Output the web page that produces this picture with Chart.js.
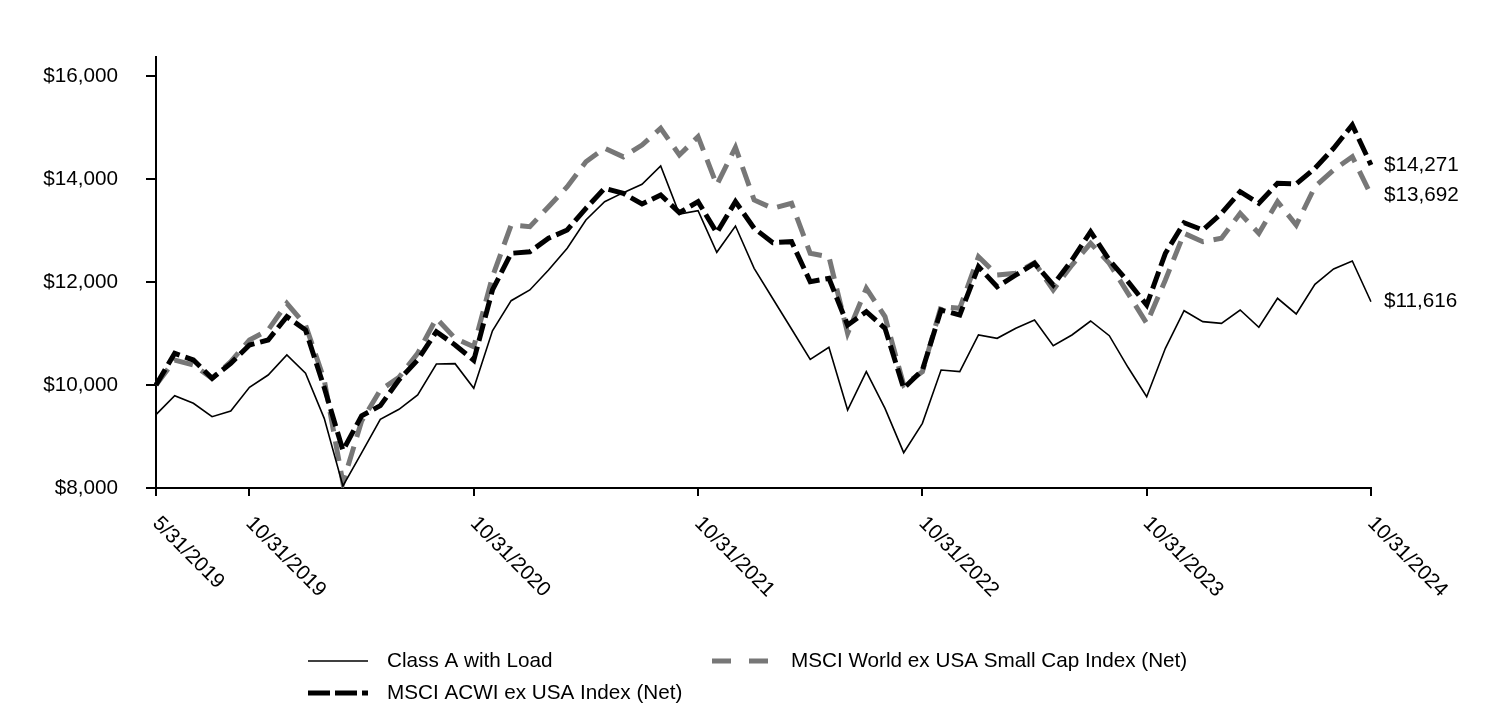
<!DOCTYPE html>
<html>
<head>
<meta charset="utf-8">
<script src="https://cdn.jsdelivr.net/npm/chart.js@4.4.1/dist/chart.umd.min.js"></script>
<style>
  html, body { margin: 0; padding: 0; background: #fff; }
  #wrap { width: 1512px; height: 708px; position: relative; }
</style>
</head>
<body>
<div id="wrap"><canvas id="c"></canvas></div>
<script>
const categories = [
  "5/31/2019","6/30/2019","7/31/2019","8/31/2019","9/30/2019","10/31/2019","11/30/2019","12/31/2019",
  "1/31/2020","2/29/2020","3/31/2020","4/30/2020","5/31/2020","6/30/2020","7/31/2020","8/31/2020","9/30/2020","10/31/2020","11/30/2020","12/31/2020",
  "1/31/2021","2/28/2021","3/31/2021","4/30/2021","5/31/2021","6/30/2021","7/31/2021","8/31/2021","9/30/2021","10/31/2021","11/30/2021","12/31/2021",
  "1/31/2022","2/28/2022","3/31/2022","4/30/2022","5/31/2022","6/30/2022","7/31/2022","8/31/2022","9/30/2022","10/31/2022","11/30/2022","12/31/2022",
  "1/31/2023","2/28/2023","3/31/2023","4/30/2023","5/31/2023","6/30/2023","7/31/2023","8/31/2023","9/30/2023","10/31/2023","11/30/2023","12/31/2023",
  "1/31/2024","2/29/2024","3/31/2024","4/30/2024","5/31/2024","6/30/2024","7/31/2024","8/31/2024","9/30/2024","10/31/2024"
];

const xTickLabels = ["5/31/2019","10/31/2019","10/31/2020","10/31/2021","10/31/2022","10/31/2023","10/31/2024"];
const yTickValues = [8000, 10000, 12000, 14000, 16000];

const seriesNames = ["Class A with Load", "MSCI ACWI ex USA Index (Net)", "MSCI World ex USA Small Cap Index (Net)"];

const classA = [
  9425, 9793, 9645, 9385, 9495, 9955, 10194, 10583, 10228, 9353,
  8039, 8680, 9334, 9528, 9806, 10408, 10414, 9936, 11054, 11637,
  11845, 12233, 12655, 13204, 13560, 13735, 13897, 14252, 13320, 13385,
  12577, 13087, 12266, 11674, 11088, 10499, 10732, 9515, 10259, 9547,
  8686, 9256, 10291, 10259, 10971, 10907, 11101, 11262, 10763, 10971,
  11243, 10958, 10344, 9773, 10713, 11443, 11230, 11198, 11456, 11122,
  11684, 11379, 11955, 12253, 12408, 11616
];

const acwi = [
  10000, 10615, 10485, 10130, 10420, 10777, 10874, 11327, 11068, 9950,
  8730, 9400, 9600, 10100, 10485, 11035, 10777, 10480, 11845, 12557,
  12588, 12849, 13010, 13431, 13819, 13722, 13515, 13690, 13346, 13560,
  12957, 13560, 13043, 12763, 12783, 12006, 12072, 11165, 11424, 11100,
  9936, 10291, 11456, 11359, 12297, 11909, 12136, 12363, 11942, 12427,
  12977, 12427, 12006, 11553, 12557, 13151, 13010, 13334, 13754, 13528,
  13916, 13903, 14208, 14596, 15049, 14271
];

const worldSmall = [
  10000, 10485, 10388, 10130, 10453, 10874, 11068, 11586, 11165, 10100,
  8100, 9300, 9900, 10150, 10615, 11295, 10907, 10744, 12103, 13107,
  13074, 13462, 13850, 14336, 14600, 14430, 14660, 14984, 14466, 14822,
  13884, 14615, 13592, 13430, 13528, 12557, 12491, 11004, 11877, 11327,
  10000, 10259, 11521, 11489, 12491, 12136, 12169, 12375, 11845, 12330,
  12751, 12363, 11780, 11198, 12039, 12945, 12783, 12850, 13334, 12945,
  13560, 13107, 13850, 14175, 14434, 13692
];

const FONT = '"Liberation Sans", Arial, Helvetica, sans-serif';
const FSIZE = 20.7;
Chart.defaults.font.family = FONT;
Chart.defaults.font.size = FSIZE;
Chart.defaults.color = '#000';

const fmt = v => '$' + Number(v).toLocaleString('en-US');

const xTickIdx = xTickLabels.map(l => categories.indexOf(l));

const decorPlugin = {
  id: 'decor',
  afterDraw(chart) {
    const ctx = chart.ctx;
    const xs = chart.scales.x, ys = chart.scales.y;
    ctx.save();
    ctx.fillStyle = '#000';
    ctx.font = FSIZE + 'px ' + FONT;
    // rotated x labels
    xTickIdx.forEach((idx, k) => {
      const px = xs.getPixelForValue(idx);
      ctx.save();
      ctx.translate(px + 7, 513);
      ctx.rotate(Math.PI / 4);
      ctx.textAlign = 'left';
      ctx.textBaseline = 'top';
      ctx.fillText(xTickLabels[k], 0, 0);
      ctx.restore();
    });
    // end labels
    const last = categories.length - 1;
    const lx = xs.getPixelForValue(last) + 13;
    ctx.textAlign = 'left';
    ctx.textBaseline = 'middle';
    [acwi, worldSmall, classA].forEach(arr => {
      ctx.fillText(fmt(arr[last]), lx, ys.getPixelForValue(arr[last]));
    });
    // legend
    const items = [
      {name: seriesNames[0], x: 308, y: 661, color: '#000', w: 1.6, dash: []},
      {name: seriesNames[2], x: 712, y: 661, color: '#777777', w: 5, dash: [19, 18]},
      {name: seriesNames[1], x: 308, y: 693, color: '#000', w: 5, dash: [22, 5]}
    ];
    items.forEach(it => {
      ctx.save();
      ctx.strokeStyle = it.color;
      ctx.lineWidth = it.w;
      ctx.setLineDash(it.dash);
      ctx.beginPath();
      ctx.moveTo(it.x, it.y);
      ctx.lineTo(it.x + 60, it.y);
      ctx.stroke();
      ctx.restore();
      ctx.textBaseline = 'middle';
      ctx.textAlign = 'left';
      ctx.fillText(it.name, it.x + 79, it.y);
    });
    ctx.restore();
  }
};

new Chart(document.getElementById('c'), {
  type: 'line',
  data: {
    labels: categories,
    datasets: [
      { label: seriesNames[0], data: classA, borderColor: '#000', borderWidth: 1.6, pointRadius: 0, tension: 0, fill: false },
      { label: seriesNames[1], data: acwi, borderColor: '#000', borderWidth: 5, borderDash: [18, 6], pointRadius: 0, tension: 0, fill: false },
      { label: seriesNames[2], data: worldSmall, borderColor: '#777777', borderWidth: 5, borderDash: [20, 10], pointRadius: 0, tension: 0, fill: false }
    ]
  },
  options: {
    responsive: true,
    maintainAspectRatio: false,
    animation: false,
    events: [],
    layout: { padding: { left: 0, right: 141, top: 57, bottom: 210 } },
    plugins: { legend: { display: false }, tooltip: { enabled: false } },
    scales: {
      x: {
        type: 'category',
        offset: false,
        afterBuildTicks(axis) { axis.ticks = axis.ticks.filter(t => xTickIdx.includes(t.value)); },
        afterFit(axis) { axis.height = 10; },
        ticks: { display: false, autoSkip: false, maxRotation: 0 },
        grid: { display: true, drawOnChartArea: false, drawTicks: true, tickLength: 8, color: '#000', lineWidth: 2 },
        border: { display: true, color: '#000', width: 2 }
      },
      y: {
        min: 8000,
        max: 16369,
        afterBuildTicks(axis) { axis.ticks = yTickValues.map(v => ({ value: v })); },
        afterFit(axis) { axis.width = 156; },
        ticks: { stepSize: 2000, padding: 28, callback: v => fmt(v), font: { size: FSIZE } },
        grid: { display: true, drawOnChartArea: false, drawTicks: true, tickLength: 10, color: '#000', lineWidth: 2 },
        border: { display: true, color: '#000', width: 2 }
      }
    }
  },
  plugins: [decorPlugin]
});
</script>
</body>
</html>
